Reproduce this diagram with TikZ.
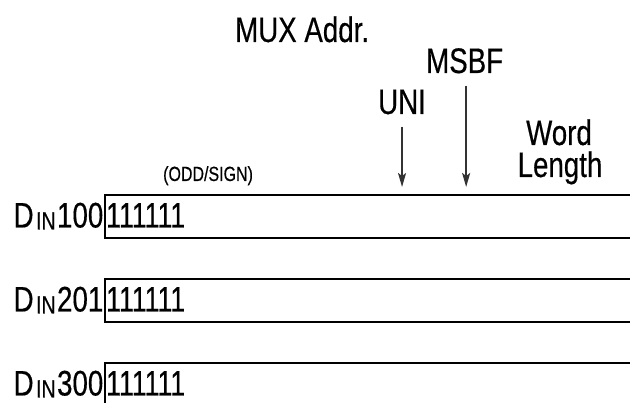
\documentclass[tikz,border=0pt]{standalone}
\usepackage{fontspec}
\setmainfont{Liberation Sans}[FakeStretch=0.78,FakeBold=0.4]
\newfontfamily\narrowdigits{Liberation Sans}[FakeStretch=0.75,FakeBold=0.4]
\usetikzlibrary{arrows.meta}
\begin{document}
\begin{tikzpicture}[x=1pt,y=-1pt,
  lbl/.style={inner sep=0pt, font=\fontsize{35.5}{36}\selectfont},
  small/.style={inner sep=0pt, font=\fontsize{20.5}{22}\selectfont},
  rowbox/.style={draw, line width=1.6pt, anchor=north west, minimum width=560pt, minimum height=43pt, inner sep=0pt},
  ptr/.style={draw=black!80, line width=1.8pt, -{Stealth[length=14pt,width=8pt,inset=3pt]}}]
\useasboundingbox (0,0) rectangle (630,403);
\clip (0,0) rectangle (630,403);
% header labels
\node[lbl, anchor=base west] (mux) at (235,42) {MUX Addr.};
\node[lbl, anchor=base west] (msbf) at (426,73) {MSBF};
\node[lbl, anchor=base west] (uni) at (378,114) {UNI};
\node[lbl, anchor=base] (word) at (559,145) {Word};
\node[lbl, anchor=base] (len) at (560,177) {Length};
\node[small, anchor=base west] (odd) at (163,181) {(ODD/SIGN)};
% rows
\foreach \i/\y/\lab in {1/194/100, 2/278/201, 3/362/300}{
  \node[rowbox] (b\i) at (104,\y) {};
  \node[lbl, anchor=base west] (v\i) at ([xshift=2pt,yshift=-33.5pt]b\i.north west) {\narrowdigits 111111};
  \node[lbl, anchor=base east] (l\i) at ([xshift=-0.5pt,yshift=-33.5pt]b\i.north west)
    {D\kern2.5pt\raisebox{-2pt}{\fontsize{25}{25}\selectfont IN}\kern1.5pt\lab};
}
% pointers
\draw[ptr] ([yshift=-12pt]uni.south) -- ([yshift=7pt]uni.south |- b1.north);
\draw[ptr] ([xshift=1.5pt,yshift=-12pt]msbf.south) -- ([xshift=1.5pt,yshift=7pt]msbf.south |- b1.north);
\end{tikzpicture}
\end{document}
